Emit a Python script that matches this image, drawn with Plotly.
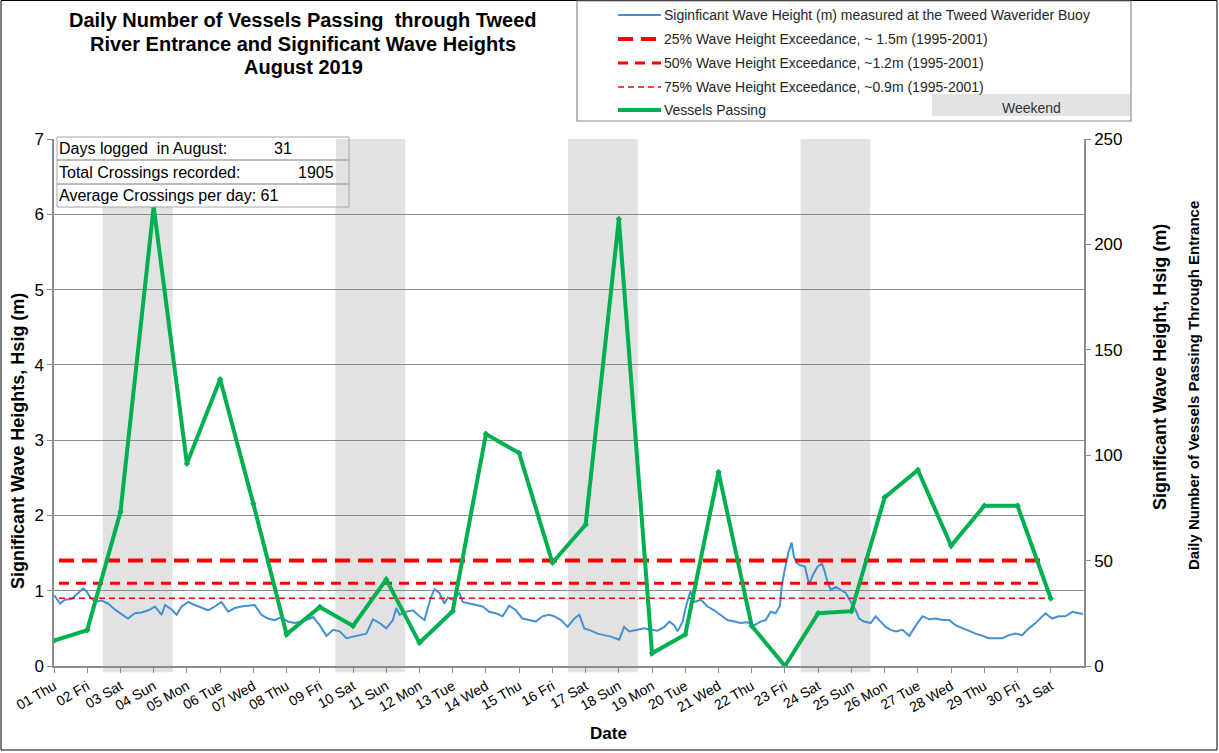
import plotly.graph_objects as go

# ---------------- data ----------------
days = list(range(1, 32))
day_labels = ["01 Thu", "02 Fri", "03 Sat", "04 Sun", "05 Mon", "06 Tue", "07 Wed", "08 Thu",
              "09 Fri", "10 Sat", "11 Sun", "12 Mon", "13 Tue", "14 Wed", "15 Thu", "16 Fri",
              "17 Sat", "18 Sun", "19 Mon", "20 Tue", "21 Wed", "22 Thu", "23 Fri", "24 Sat",
              "25 Sun", "26 Mon", "27 Tue", "28 Wed", "29 Thu", "30 Fri", "31 Sat"]
vessels = [12, 17, 73, 218, 96, 136, 77, 15, 28, 19, 41, 11, 26, 110, 101, 49,
           67, 212, 6, 15, 92, 19, 0, 25, 26, 80, 93, 57, 76, 76, 32]

wave_day = [1.01, 1.18, 1.33, 1.53, 1.73, 1.88, 1.98, 2.08, 2.23, 2.43, 2.63, 2.83, 3.03, 3.23,
            3.43, 3.64, 3.84, 4.04, 4.24, 4.34, 4.54, 4.69, 4.84, 5.04, 5.24, 5.44, 5.64, 5.84,
            6.04, 6.24, 6.44, 6.64, 6.84, 7.04, 7.24, 7.44, 7.64, 7.84, 8.04, 8.24, 8.44, 8.6,
            8.8, 9.0, 9.2, 9.4, 9.6, 9.8, 10.0, 10.2, 10.4, 10.6, 10.8, 11.0, 11.2, 11.3, 11.4,
            11.6, 11.8, 12.0, 12.15, 12.25, 12.35, 12.45, 12.6, 12.75, 12.85, 13.0, 13.2, 13.3,
            13.5, 13.7, 13.9, 14.1, 14.3, 14.5, 14.7, 14.9, 15.1, 15.3, 15.5, 15.7, 15.9, 16.06,
            16.26, 16.46, 16.66, 16.81, 16.96, 17.16, 17.36, 17.56, 17.76, 18.01, 18.16, 18.31,
            18.56, 18.77, 18.97, 19.17, 19.37, 19.52, 19.67, 19.77, 19.92, 20.02, 20.15, 20.27,
            20.47, 20.67, 20.87, 21.07, 21.27, 21.47, 21.67, 21.87, 22.07, 22.27, 22.42, 22.57,
            22.72, 22.85, 22.9, 22.98, 23.1, 23.2, 23.27, 23.35, 23.45, 23.6, 23.73, 23.83, 23.98,
            24.11, 24.18, 24.28, 24.38, 24.53, 24.68, 24.83, 24.98, 25.13, 25.23, 25.38, 25.58,
            25.73, 25.88, 26.03, 26.18, 26.34, 26.54, 26.74, 26.94, 27.14, 27.34, 27.54, 27.74,
            27.94, 28.14, 28.34, 28.54, 28.74, 28.94, 29.14, 29.34, 29.54, 29.74, 29.94, 30.14,
            30.34, 30.54, 30.74, 30.84, 31.04, 31.24, 31.44, 31.65, 31.85, 31.97]
wave_hsig = [0.94, 0.83, 0.88, 0.89, 0.97, 1.03, 0.99, 0.92, 0.85, 0.87, 0.83, 0.75, 0.69, 0.63,
             0.70, 0.71, 0.74, 0.79, 0.68, 0.81, 0.75, 0.68, 0.79, 0.85, 0.81, 0.77, 0.74, 0.79,
             0.85, 0.72, 0.77, 0.79, 0.80, 0.81, 0.68, 0.63, 0.61, 0.65, 0.59, 0.57, 0.59, 0.61,
             0.65, 0.54, 0.40, 0.48, 0.46, 0.37, 0.39, 0.41, 0.43, 0.62, 0.57, 0.50, 0.61, 0.77,
             0.68, 0.72, 0.74, 0.66, 0.61, 0.77, 0.92, 1.02, 0.97, 0.83, 0.91, 0.88, 0.97, 0.85,
             0.83, 0.80, 0.79, 0.72, 0.70, 0.66, 0.80, 0.74, 0.63, 0.61, 0.59, 0.66, 0.68, 0.66,
             0.61, 0.52, 0.63, 0.68, 0.50, 0.47, 0.43, 0.41, 0.39, 0.35, 0.52, 0.46, 0.48, 0.50,
             0.48, 0.47, 0.52, 0.59, 0.54, 0.46, 0.59, 0.79, 0.99, 0.85, 0.88, 0.79, 0.74, 0.68,
             0.61, 0.59, 0.57, 0.58, 0.54, 0.59, 0.61, 0.72, 0.70, 0.80, 1.05, 1.25, 1.50, 1.64,
             1.45, 1.37, 1.34, 1.32, 1.08, 1.20, 1.32, 1.36, 1.28, 1.12, 1.01, 1.05, 1.01, 0.97,
             0.85, 0.74, 0.63, 0.59, 0.57, 0.66, 0.59, 0.52, 0.48, 0.46, 0.48, 0.40, 0.54, 0.66,
             0.62, 0.63, 0.61, 0.61, 0.54, 0.50, 0.46, 0.43, 0.40, 0.37, 0.37, 0.37, 0.41, 0.43,
             0.41, 0.50, 0.57, 0.66, 0.70, 0.63, 0.66, 0.66, 0.72, 0.70, 0.69]

title_lines = ["Daily Number of Vessels Passing  through Tweed",
               "River Entrance and Significant Wave Heights",
               "August 2019"]
exceed_labels = ["25% Wave Height Exceedance, ~ 1.5m (1995-2001)",
                 "50% Wave Height Exceedance, ~1.2m (1995-2001)",
                 "75% Wave Height Exceedance, ~0.9m (1995-2001)"]
exceed_values = [1.4, 1.1, 0.9]
exceed_span = [1.15, 30.85]
weekends = [(3, 4), (10, 11), (17, 18), (24, 25)]

# ---------------- geometry helpers (reference pixel coords) ----------------
W, H = 1219, 753
PL, PR, PT, PB = 54, 1084, 139, 666
def px(x):
    return (x - PL) / (PR - PL)
def py(y):
    return (PB - y) / (PB - PT)

FONT = "Liberation Sans, Arial, sans-serif"
BLUE = "#4590D4"
GREEN = "#00B050"
RED = "#FF0000"
GRID = "#8C8C8C"

exceed_styles = [dict(width=4, dash="15px,8px"), dict(width=3, dash="10px,7px"), dict(width=1.5, dash="6px,4px")]

fig = go.Figure()

fig.add_trace(go.Scatter(x=wave_day, y=wave_hsig, mode="lines", yaxis="y",
                         line=dict(color=BLUE, width=2), name="Siginficant Wave Height"))
fig.add_trace(go.Scatter(x=days, y=vessels, mode="lines+markers", yaxis="y2",
                         line=dict(color=GREEN, width=4),
                         marker=dict(symbol="diamond", size=5, color=GREEN),
                         name="Vessels Passing"))
for lab, val, st in zip(exceed_labels, exceed_values, exceed_styles):
    fig.add_trace(go.Scatter(x=exceed_span, y=[val, val], mode="lines", yaxis="y",
                             line=dict(color=RED, **st), name=lab))

shapes = []
for sat, sun in weekends:
    shapes.append(dict(type="rect", xref="x", yref="paper", x0=sat - 0.53, x1=sun + 0.57,
                       y0=-0.012, y1=1, fillcolor="#E2E2E2", line=dict(width=0), layer="below"))

annotations = []
# title (one annotation per line to control line spacing)
for yy, tl in zip([20, 44, 67], title_lines):
    annotations.append(dict(xref="paper", yref="paper", x=px(303), y=py(yy), xanchor="center", yanchor="middle",
                            text="<b>" + tl + "</b>", showarrow=False,
                            font=dict(family=FONT, size=20, color="#000000")))

# legend box
shapes.append(dict(type="rect", xref="paper", yref="paper", x0=px(577), x1=px(1131), y0=py(121), y1=py(1),
                   line=dict(color="#8C8C8C", width=1.2), fillcolor="white"))
shapes.append(dict(type="rect", xref="paper", yref="paper", x0=px(932), x1=px(1130), y0=py(116), y1=py(94),
                   line=dict(width=0), fillcolor="#E2E2E2"))
annotations.append(dict(xref="paper", yref="paper", x=px(1031), y=py(108), text="Weekend", showarrow=False,
                        font=dict(family=FONT, size=14, color="#333333"), xanchor="center", yanchor="middle"))
leg_rows = [15, 39, 63, 87, 110]
leg_texts = ["Siginficant Wave Height (m) measured at the Tweed Waverider Buoy"] + exceed_labels + ["Vessels Passing"]
leg_lines = [dict(color=BLUE, width=2)] + [dict(color=RED, **s) for s in exceed_styles] + [dict(color=GREEN, width=4)]
for yy, tx, ln in zip(leg_rows, leg_texts, leg_lines):
    shapes.append(dict(type="line", xref="paper", yref="paper", x0=px(618), x1=px(661), y0=py(yy), y1=py(yy), line=ln))
    annotations.append(dict(xref="paper", yref="paper", x=px(662), y=py(yy), text=tx, showarrow=False,
                            xanchor="left", yanchor="middle", font=dict(family=FONT, size=14, color="#262626")))

# info box
n_days = len(vessels)
total = sum(vessels)
avg = round(total / n_days)
info = [("Days logged\u00a0 in August:", str(n_days), 272),
        ("Total Crossings recorded:", str(total), 296),
        ("Average Crossings per day: " + str(avg), "", 0)]
rows = [(137, 160), (160, 184), (184, 207)]
shapes.append(dict(type="rect", xref="paper", yref="paper", x0=px(57), x1=px(336), y0=py(207), y1=py(137),
                   line=dict(width=0), fillcolor="white"))
for (t, b), (tx, num, nx) in zip(rows, info):
    shapes.append(dict(type="rect", xref="paper", yref="paper", x0=px(57), x1=px(349), y0=py(b), y1=py(t),
                       line=dict(color="#A6A6A6", width=1), fillcolor="rgba(0,0,0,0)"))
    annotations.append(dict(xref="paper", yref="paper", x=px(57), y=py((t + b) / 2), text=tx, showarrow=False,
                            xanchor="left", yanchor="middle", font=dict(family=FONT, size=16, color="#000000")))
    if num:
        annotations.append(dict(xref="paper", yref="paper", x=px(nx), y=py((t + b) / 2), text=num, showarrow=False,
                                xanchor="left", yanchor="middle", font=dict(family=FONT, size=16, color="#000000")))

# axis titles
annotations.append(dict(xref="paper", yref="paper", x=px(18), y=py(441), text="<b>Significant Wave Heights, Hsig (m)</b>",
                        textangle=-90, showarrow=False, font=dict(family=FONT, size=18, color="#000000"),
                        xanchor="center", yanchor="middle"))
annotations.append(dict(xref="paper", yref="paper", x=px(1160), y=py(367), text="<b>Significant Wave Height, Hsig (m)</b>",
                        textangle=-90, showarrow=False, font=dict(family=FONT, size=18, color="#000000"),
                        xanchor="center", yanchor="middle"))
annotations.append(dict(xref="paper", yref="paper", x=px(1193), y=py(386), text="<b>Daily Number of Vessels Passing Through Entrance</b>",
                        textangle=-90, showarrow=False, font=dict(family=FONT, size=15, color="#000000"),
                        xanchor="center", yanchor="middle"))
annotations.append(dict(xref="paper", yref="paper", x=px(608), y=py(733), text="<b>Date</b>", showarrow=False,
                        font=dict(family=FONT, size=17, color="#000000"), xanchor="center", yanchor="middle"))

# outer border
shapes.append(dict(type="rect", xref="paper", yref="paper", x0=px(1), x1=px(1217), y0=py(750), y1=py(0.5),
                   line=dict(color="#000000", width=1), fillcolor="rgba(0,0,0,0)", layer="below"))

fig.update_layout(
    width=W, height=H,
    margin=dict(l=PL, r=W - PR, t=PT, b=H - PB, pad=0),
    paper_bgcolor="white", plot_bgcolor="white",
    showlegend=False,
    font=dict(family=FONT, color="#000000"),
    xaxis=dict(range=[1, 32], tickmode="array", tickvals=days, ticktext=day_labels, tickangle=-30,
               ticks="outside", ticklen=5, tickcolor=GRID, showline=True, linecolor=GRID, linewidth=1.5,
               showgrid=False, zeroline=False, tickfont=dict(family=FONT, size=14, color="#000000")),
    yaxis=dict(range=[0, 7], dtick=1, tick0=0, ticks="outside", ticklen=5, tickcolor=GRID,
               showline=True, linecolor=GRID, linewidth=1.5, showgrid=True, gridcolor=GRID, gridwidth=1,
               zeroline=False, tickfont=dict(family=FONT, size=17, color="#000000")),
    yaxis2=dict(range=[0, 250], dtick=50, tick0=0, overlaying="y", side="right", ticks="outside", ticklen=5,
                tickcolor=GRID, showline=True, linecolor=GRID, linewidth=1.5, showgrid=False, zeroline=False,
                tickfont=dict(family=FONT, size=17, color="#000000")),
    shapes=shapes, annotations=annotations,
)

fig.write_html("out.html", config={"displayModeBar": False},
               post_script="document.body.style.margin='0px';")
